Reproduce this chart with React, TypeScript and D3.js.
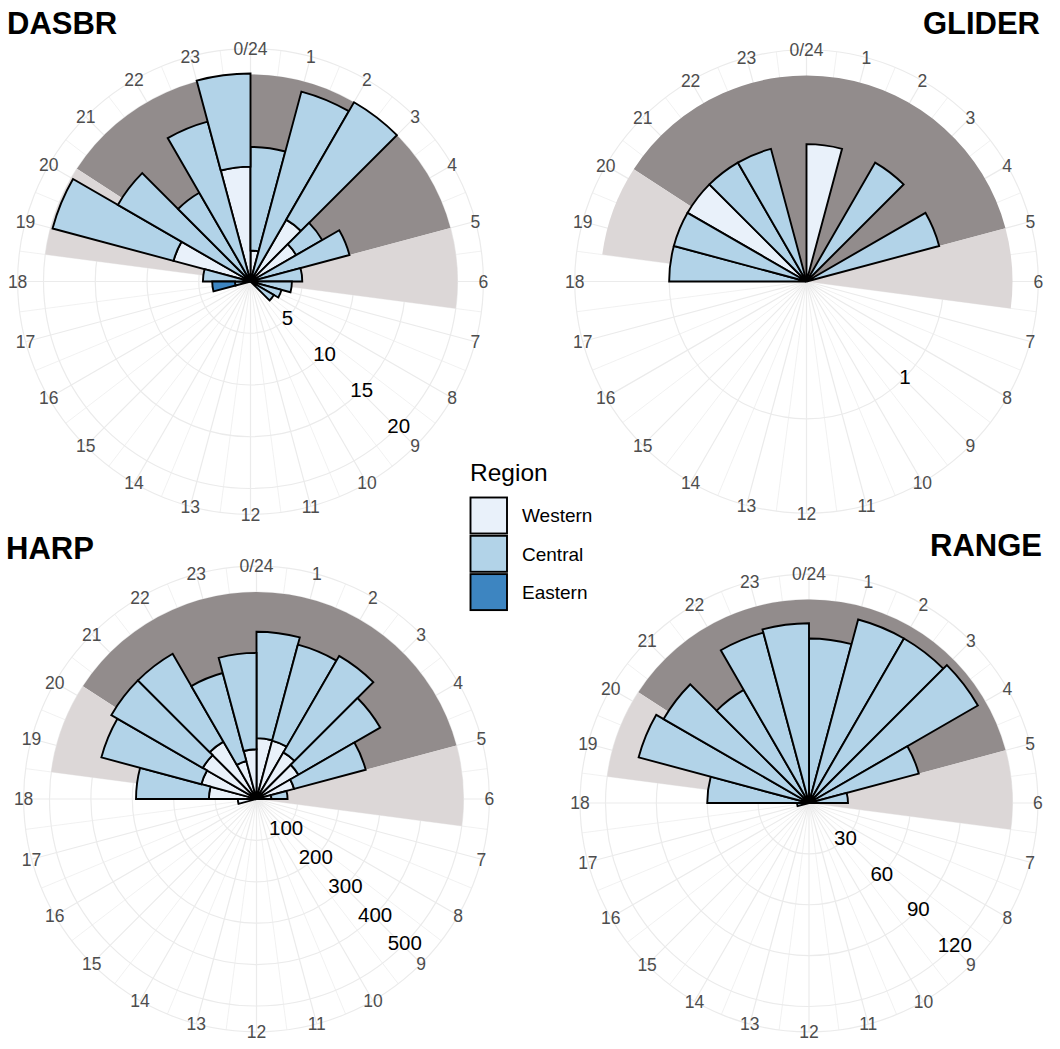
import React from 'react';
import * as d3 from 'd3';

// ---------------- data ----------------
const HOURS = d3.range(24);
const HOUR_LABELS = HOURS.map((h) => (h === 0 ? '0/24' : String(h)));
const REGIONS = ['Western', 'Central', 'Eastern'];

// counts per hour (0..23), stacked Western (inner) -> Central -> Eastern (outer)
const DASBR_WESTERN = [3, 0, 6.9, 5.1, 0, 0, 0, 0, 0, 0, 0, 0, 0, 0, 0, 0, 0, 0, 0, 7.7, 0, 0, 0, 11.1];
const DASBR_CENTRAL = [10, 19, 13.1, 2.9, 9.9, 5, 4, 3.1, 2.6, 0, 0, 0, 0, 0, 0, 0, 0, 1.5, 4.6, 12.1, 14.8, 9.9, 16, 9];
const DASBR_EASTERN = [0, 0, 0, 0, 0, 0, 0, 0, 0, 0, 0, 0, 0, 0, 0, 0, 0, 2.2, 0, 0, 0, 0, 0, 0];

const GLIDER_WESTERN = [1, 0, 0, 0, 0, 0, 0, 0, 0, 0, 0, 0, 0, 0, 0, 0, 0, 0, 0, 0, 1, 0, 0, 0];
const GLIDER_CENTRAL = [0, 0, 1, 0, 1, 0, 0, 0, 0, 0, 0, 0, 0, 0, 0, 0, 0, 0, 1, 1, 0, 1, 1, 0];
const GLIDER_EASTERN = [0, 0, 0, 0, 0, 0, 0, 0, 0, 0, 0, 0, 0, 0, 0, 0, 0, 0, 0, 0, 0, 0, 0, 0];

const HARP_WESTERN = [147, 146, 130, 117, 94, 36, 0, 0, 0, 0, 0, 0, 0, 0, 0, 0, 0, 45, 115, 138, 150, 160, 95, 120];
const HARP_CENTRAL = [257, 240, 269, 228, 179, 39, 0, 0, 0, 0, 0, 0, 0, 0, 0, 0, 0, 0, 176, 250, 255, 245, 220, 233];
const HARP_EASTERN = [0, 0, 0, 0, 0, 0, 0, 0, 0, 0, 0, 0, 0, 0, 0, 0, 0, 0, 0, 0, 0, 0, 0, 0];

const RANGE_WESTERN = [0, 0, 0, 0, 0, 0, 0, 0, 0, 0, 0, 0, 0, 0, 0, 0, 0, 0, 0, 0, 0, 0, 0, 0];
const RANGE_CENTRAL = [97, 112, 112, 115, 67, 23, 0, 0, 0, 0, 0, 0, 0, 0, 0, 0, 0, 7, 60, 104, 99, 77, 104, 106];
const RANGE_EASTERN = [0, 0, 0, 0, 0, 0, 0, 0, 0, 0, 0, 0, 0, 0, 0, 0, 0, 0, 0, 0, 0, 0, 0, 0];

// radial axis maxima and tick labels
const DASBR_MAX = 20;
const DASBR_BREAKS = [5, 10, 15, 20];
const GLIDER_MAX = 1.5;
const GLIDER_BREAKS = [1];
const HARP_MAX = 500;
const HARP_BREAKS = [100, 200, 300, 400, 500];
const RANGE_MAX = 120;
const RANGE_BREAKS = [30, 60, 90, 120];

// day-phase shading (hours)
const NIGHT = [20.2, 29.0]; // 20.2 h -> 5.0 h (next day)
const TWILIGHT = [
  [18.5, 20.2],
  [5.0, 6.5],
];

// ---------------- styles / layout ----------------
const REGION_COLORS = ['#e9f1fa', '#b2d3e8', '#3d85c1'];
const NIGHT_COLOR = '#928c8c';
const TWILIGHT_COLOR = '#dcd7d7';
const GRID_COLOR = '#ebebeb';
const FONT = '"Liberation Sans", Arial, Helvetica, sans-serif';

const PANELS = [
  { name: 'DASBR', w: DASBR_WESTERN, c: DASBR_CENTRAL, e: DASBR_EASTERN, max: DASBR_MAX, breaks: DASBR_BREAKS },
  { name: 'GLIDER', w: GLIDER_WESTERN, c: GLIDER_CENTRAL, e: GLIDER_EASTERN, max: GLIDER_MAX, breaks: GLIDER_BREAKS },
  { name: 'HARP', w: HARP_WESTERN, c: HARP_CENTRAL, e: HARP_EASTERN, max: HARP_MAX, breaks: HARP_BREAKS },
  { name: 'RANGE', w: RANGE_WESTERN, c: RANGE_CENTRAL, e: RANGE_EASTERN, max: RANGE_MAX, breaks: RANGE_BREAKS },
];

const LAYOUT = [
  { cx: 250.5, cy: 281.5, R: 207, tx: 7, ty: 34, anchor: 'start' },
  { cx: 806.5, cy: 281.5, R: 206, tx: 1040, ty: 34, anchor: 'end' },
  { cx: 256.5, cy: 799, R: 207, tx: 6, ty: 559, anchor: 'start' },
  { cx: 809, cy: 803, R: 203.5, tx: 1042, ty: 556, anchor: 'end' },
];

const arcGen = d3.arc<any>();

function Panel({ panel, lay }: { panel: any; lay: any }) {
  const theta = d3.scaleLinear().domain([0, 24]).range([0, 2 * Math.PI]);
  const r = d3.scaleLinear().domain([0, panel.max]).range([0, lay.R]);
  const Rout = lay.R * 1.125;

  const rows = HOURS.map((h) => ({ hour: h, Western: panel.w[h], Central: panel.c[h], Eastern: panel.e[h] }));
  const series = d3.stack<any>().keys(REGIONS)(rows);

  const spokes = d3.range(0, 24, 0.5);
  const pt = (hour: number, rad: number) => {
    const a = theta(hour);
    return [rad * Math.sin(a), -rad * Math.cos(a)];
  };

  const wedge = (h0: number, h1: number, r0: number, r1: number) =>
    arcGen({ innerRadius: r0, outerRadius: r1, startAngle: theta(h0), endAngle: theta(h1) }) as string;

  return (
    <g>
      <g transform={`translate(${lay.cx},${lay.cy})`}>
        {/* grid */}
        {spokes.map((s) => {
          const [x, y] = pt(s, Rout);
          return (
            <line key={'s' + s} x1={0} y1={0} x2={x} y2={y} stroke={GRID_COLOR}
              strokeWidth={Number.isInteger(s) ? 1.2 : 0.7} />
          );
        })}
        {panel.breaks.map((b: number) => (
          <circle key={'c' + b} r={r(b)} fill="none" stroke={GRID_COLOR} strokeWidth={1.2} />
        ))}
        <circle r={Rout} fill="none" stroke={GRID_COLOR} strokeWidth={1.2} />

        {/* shading */}
        <path d={wedge(NIGHT[0], NIGHT[1], 0, r(panel.max))} fill={NIGHT_COLOR} />
        {TWILIGHT.map((t, i) => (
          <path key={'t' + i} d={wedge(t[0], t[1], 0, r(panel.max))} fill={TWILIGHT_COLOR} />
        ))}

        {/* bars */}
        {series.map((s: any, si: number) =>
          s.map((d: any, hi: number) =>
            d[1] - d[0] > 0 ? (
              <path key={si + '-' + hi} d={wedge(d.data.hour, d.data.hour + 1, r(d[0]), r(d[1]))}
                fill={REGION_COLORS[si]} stroke="#000" strokeWidth={1.9} strokeLinejoin="miter" />
            ) : null
          )
        )}

        {/* hour labels */}
        {HOURS.map((h) => {
          const [x, y] = pt(h, Rout);
          return (
            <text key={'h' + h} x={x} y={y} dy="0.36em" textAnchor="middle" fontSize={17.5}
              fill="#4d4d4d" fontFamily={FONT}>{HOUR_LABELS[h]}</text>
          );
        })}

        {/* radial labels */}
        {panel.breaks.map((b: number) => {
          const [x, y] = pt(8.95, r(b));
          return (
            <text key={'b' + b} x={x} y={y} dy="0.34em" textAnchor="middle" fontSize={20.5}
              fill="#000" fontFamily={FONT}>{String(b)}</text>
          );
        })}
      </g>
      <text x={lay.tx} y={lay.ty} textAnchor={lay.anchor} fontSize={31} fontWeight="bold"
        fontFamily={FONT} fill="#000">{panel.name}</text>
    </g>
  );
}

function Legend() {
  return (
    <g fontFamily={FONT}>
      <text x={470} y={481} fontSize={24.5} fill="#000">Region</text>
      {REGIONS.map((reg, i) => {
        const y = 497.5 + i * 38.3;
        return (
          <g key={reg}>
            <rect x={470.5} y={y} width={36.5} height={36} fill={REGION_COLORS[i]} stroke="#000" strokeWidth={1.9} />
            <text x={522} y={y + 18} dy="0.36em" fontSize={19} fill="#000">{reg}</text>
          </g>
        );
      })}
    </g>
  );
}

export default function App() {
  return (
    <svg width={1060} height={1049} style={{ position: 'absolute', left: 0, top: 0, background: '#fff' }}>
      <rect width={1060} height={1049} fill="#fff" />
      {PANELS.map((p, i) => (
        <Panel key={p.name} panel={p} lay={LAYOUT[i]} />
      ))}
      <Legend />
    </svg>
  );
}
